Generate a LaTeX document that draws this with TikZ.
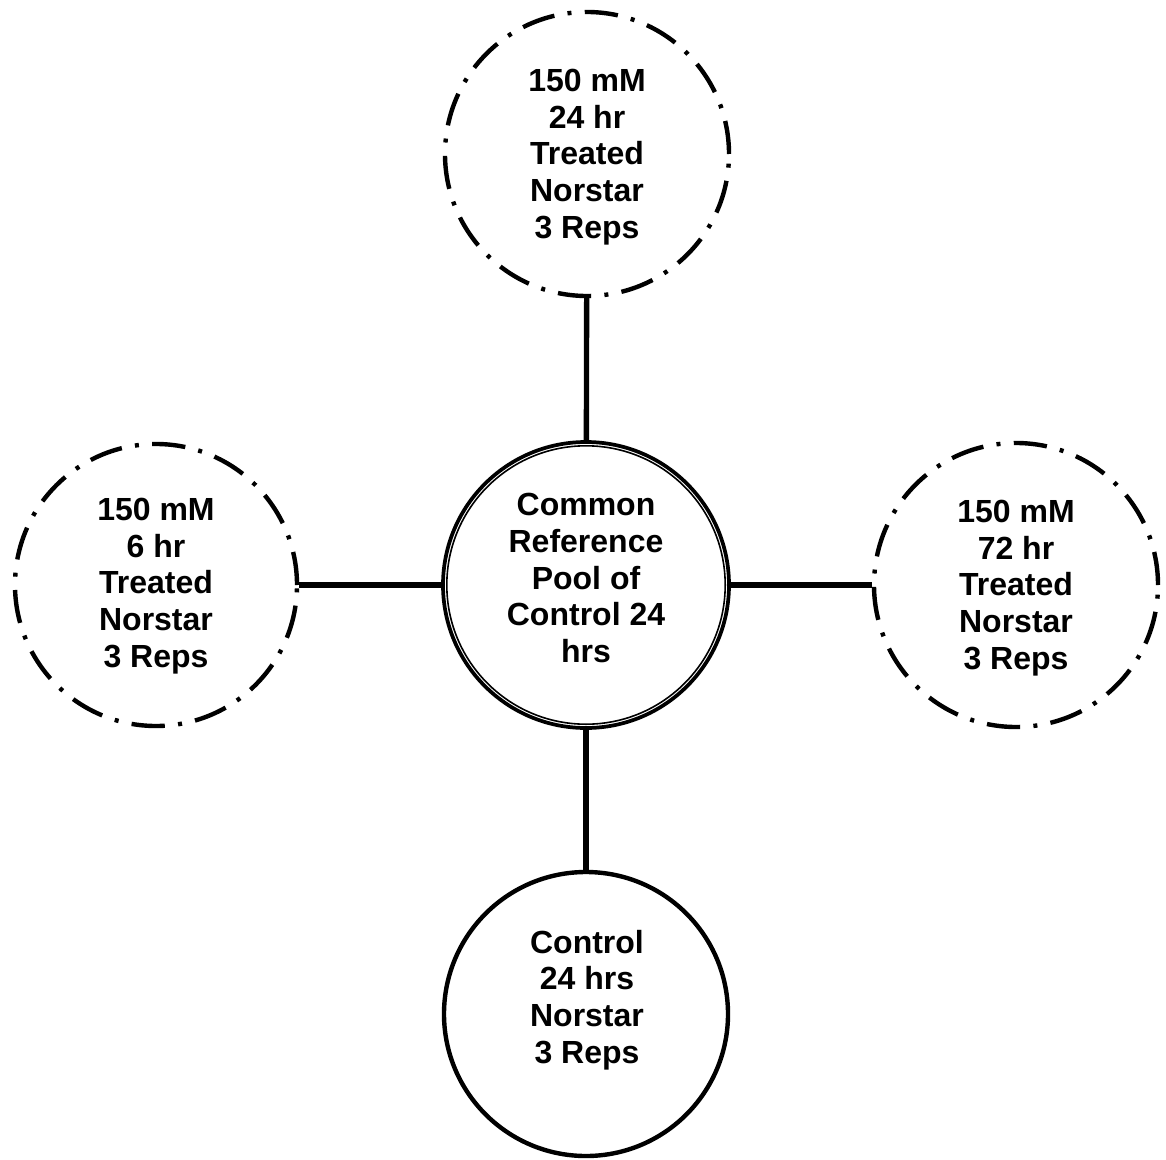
\documentclass[tikz,border=0pt]{standalone}
\usepackage{fontspec}
\setmainfont{Liberation Sans}
\begin{document}
\begin{tikzpicture}[x=0.75pt,y=-0.75pt,
  bub/.style={circle, draw, line width=3.3pt, inner sep=0pt, minimum size=#1},
  dashcirc/.style={bub=#1, dash pattern=on 25pt off 10pt on 3pt off 10pt},
  lbl/.style={align=center, font=\fontsize{24}{27.5}\selectfont\bfseries, inner sep=0pt},
  conn/.style={line width=4pt}]
\useasboundingbox (0,0) rectangle (1166,1159);
% circles
\node[dashcirc=213pt] (top) at (587,154) {};
\node[dashcirc=211.5pt] (left) at (156,585) {};
\node[dashcirc=213pt] (right) at (1016,585) {};
\node[bub=213pt] (bottom) at (586,1014) {};
\node[bub=214.5pt, line width=2.8pt] (ref) at (586,585) {};
\draw[line width=1.2pt] (ref.center) circle[radius=104.4pt];
% texts
\node[lbl] (toptext) at (587,157) {150 mM\\24 hr\\Treated\\Norstar\\3 Reps};
\node[lbl] (lefttext) at (156,586) {150 mM\\6 hr\\Treated\\Norstar\\3 Reps};
\node[lbl] (righttext) at (1016,588) {150 mM\\72 hr\\Treated\\Norstar\\3 Reps};
\node[lbl] (bottomtext) at (587,1000) {Control\\24 hrs\\Norstar\\3 Reps};
\node[lbl] (reftext) at (586,578) {Common\\Reference\\Pool of\\Control 24\\hrs};
% connectors
\draw[conn] (top) -- (ref);
\draw[conn] (left) -- (ref);
\draw[conn] (ref) -- (right);
\draw[conn] (ref) -- (bottom);
\end{tikzpicture}
\end{document}
